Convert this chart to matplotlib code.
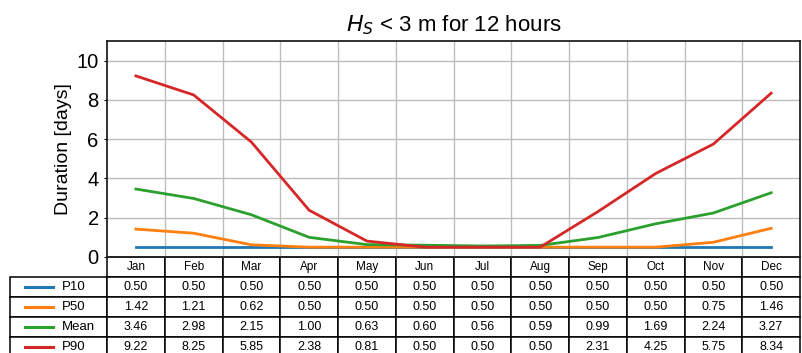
import numpy as np
import matplotlib.pyplot as plt
from matplotlib.lines import Line2D

plt.rcParams['font.family'] = ['Liberation Sans', 'DejaVu Sans']

months = ['Jan', 'Feb', 'Mar', 'Apr', 'May', 'Jun', 'Jul', 'Aug', 'Sep', 'Oct', 'Nov', 'Dec']
p10 = [0.50, 0.50, 0.50, 0.50, 0.50, 0.50, 0.50, 0.50, 0.50, 0.50, 0.50, 0.50]
p50 = [1.42, 1.21, 0.62, 0.50, 0.50, 0.50, 0.50, 0.50, 0.50, 0.50, 0.75, 1.46]
mean = [3.46, 2.98, 2.15, 1.00, 0.63, 0.60, 0.56, 0.59, 0.99, 1.69, 2.24, 3.27]
p90 = [9.22, 8.25, 5.85, 2.38, 0.81, 0.50, 0.50, 0.50, 2.31, 4.25, 5.75, 8.34]

series = [('P10', p10, '#1f77b4'), ('P50', p50, '#ff7f0e'),
          ('Mean', mean, '#2ca02c'), ('P90', p90, '#d62728')]

fig = plt.figure(figsize=(8.03, 3.53), dpi=100)
ax = fig.add_axes([0.1333, 0.272, 0.863, 0.612])

x = np.arange(len(months))
for name, vals, col in series:
    ax.plot(x, vals, color=col, lw=2)

ax.set_xlim(-0.5, 11.5)
ax.set_ylim(0, 11)
ax.set_yticks([0, 2, 4, 6, 8, 10])
ax.tick_params(axis='y', labelsize=14.5, length=2.5)
ax.set_xticks(np.arange(0.5, 11.5, 1))
ax.set_xticklabels([])
ax.tick_params(axis='x', length=0)
ax.grid(True, color='#bdbdbd', lw=1.0)
for s in ax.spines.values():
    s.set_linewidth(1.3)
    s.set_color('#222222')
ax.set_ylabel('Duration [days]', fontsize=14, labelpad=3)
ax.set_title('$H_S$ < 3 m for 12 hours', fontsize=16, pad=7)

# table under the axes: first column holds the legend entries
lab_w = 97 / 693
H = 100 / 216
cells = [[''] + ['%.2f' % v for v in vals] for _, vals, _ in series]
tbl = ax.table(cellText=cells, colLabels=[''] + months,
               colWidths=[lab_w] + [1 / 12] * 12,
               cellLoc='center', bbox=[-lab_w, -H, 1 + lab_w, H])
tbl.auto_set_font_size(False)
tbl.set_fontsize(9)
for (r, c), cell in tbl.get_celld().items():
    cell.set_linewidth(1.1)
    if r == 0:
        cell.get_text().set_fontsize(8.5)
        if c == 0:
            cell.visible_edges = ''

rh = H / 5
for i, (name, vals, col) in enumerate(series):
    yc = -(i + 1.5) * rh
    ax.add_line(Line2D([-0.118, -0.078], [yc, yc], color=col, lw=2.2,
                       transform=ax.transAxes, clip_on=False))
    ax.text(-0.065, yc, name, transform=ax.transAxes, fontsize=9.5,
            va='center', ha='left')

fig.savefig('out.png', dpi=100)
